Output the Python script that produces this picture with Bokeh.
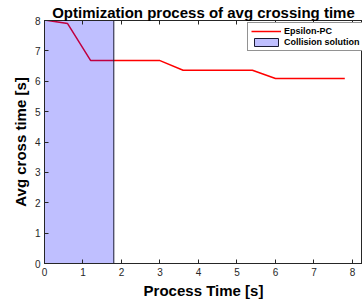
from bokeh.plotting import figure
from bokeh.models import Range1d, FixedTicker, LinearAxis, Legend, LegendItem
from bokeh.embed import file_html
from bokeh.resources import INLINE

# Data
process_time = [0.0, 0.6, 1.2, 3.0, 3.6, 5.4, 6.0, 7.8]
avg_cross_time = [8.02, 7.9, 6.68, 6.68, 6.36, 6.36, 6.09, 6.09]
collision_x = [0.0, 1.8]
collision_y = [0.0, 8.0]
x_ticks = [0, 1, 2, 3, 4, 5, 6, 7, 8]
y_ticks = [0, 1, 2, 3, 4, 5, 6, 7, 8]
title_text = "Optimization process of avg crossing time"

FONT = "Liberation Sans"
AX = "#262626"

p = figure(width=362, height=305, output_backend="svg", toolbar_location=None,
           x_range=Range1d(0, 8.26), y_range=Range1d(0, 8),
           min_border_left=44, min_border_right=0, min_border_top=19, min_border_bottom=42)
p.background_fill_color = "white"
p.border_fill_color = "white"
p.outline_line_color = AX
p.outline_line_width = 1
p.grid.visible = False

def style_axis(ax, ticks, show_labels=True):
    ax.ticker = FixedTicker(ticks=ticks)
    ax.major_tick_in = 4
    ax.major_tick_out = 0
    ax.minor_tick_line_color = None
    ax.axis_line_color = AX
    ax.major_tick_line_color = AX
    ax.major_label_text_font = FONT
    ax.major_label_text_font_size = "10px"
    ax.major_label_text_color = AX
    if not show_labels:
        ax.major_label_overrides = {t: "" for t in ticks}
        ax.major_label_standoff = 0
    ax.axis_label_text_font = FONT
    ax.axis_label_text_font_size = "15px"
    ax.axis_label_text_font_style = "bold"
    ax.axis_label_text_color = "black"

xa = p.xaxis[0]
ya = p.yaxis[0]
style_axis(xa, x_ticks)
style_axis(ya, y_ticks)
xa.axis_label = "Process Time [s]"
ya.axis_label = "Avg cross time [s]"
xa.major_label_standoff = 4
xa.axis_label_standoff = 3
ya.major_label_standoff = 4
ya.axis_label_standoff = 3

top = LinearAxis()
style_axis(top, x_ticks, show_labels=False)
top.axis_label = title_text
top.axis_label_standoff = 0
p.add_layout(top, "above")

r_line = p.line(process_time, avg_cross_time, line_color="#ff0000", line_width=1.5)
r_patch = p.quad(left=collision_x[0], right=collision_x[1], bottom=collision_y[0], top=collision_y[1],
                 fill_color="#0000ff", fill_alpha=0.25, line_color="#1a1a33", line_width=1)

legend = Legend(items=[LegendItem(label="Epsilon-PC", renderers=[r_line]),
                       LegendItem(label="Collision solution", renderers=[r_patch])],
                location=(203, 212))
legend.label_text_font = FONT
legend.label_text_font_size = "9px"
legend.label_text_font_style = "bold"
legend.label_text_color = "black"
legend.label_height = 10
legend.glyph_height = 10
legend.glyph_width = 30
legend.label_standoff = 3
legend.spacing = 1
legend.padding = 3
legend.margin = 0
legend.border_line_color = AX
legend.border_line_width = 1
legend.background_fill_alpha = 1
p.add_layout(legend, "center")

open("out.html", "w").write(file_html(p, INLINE))
